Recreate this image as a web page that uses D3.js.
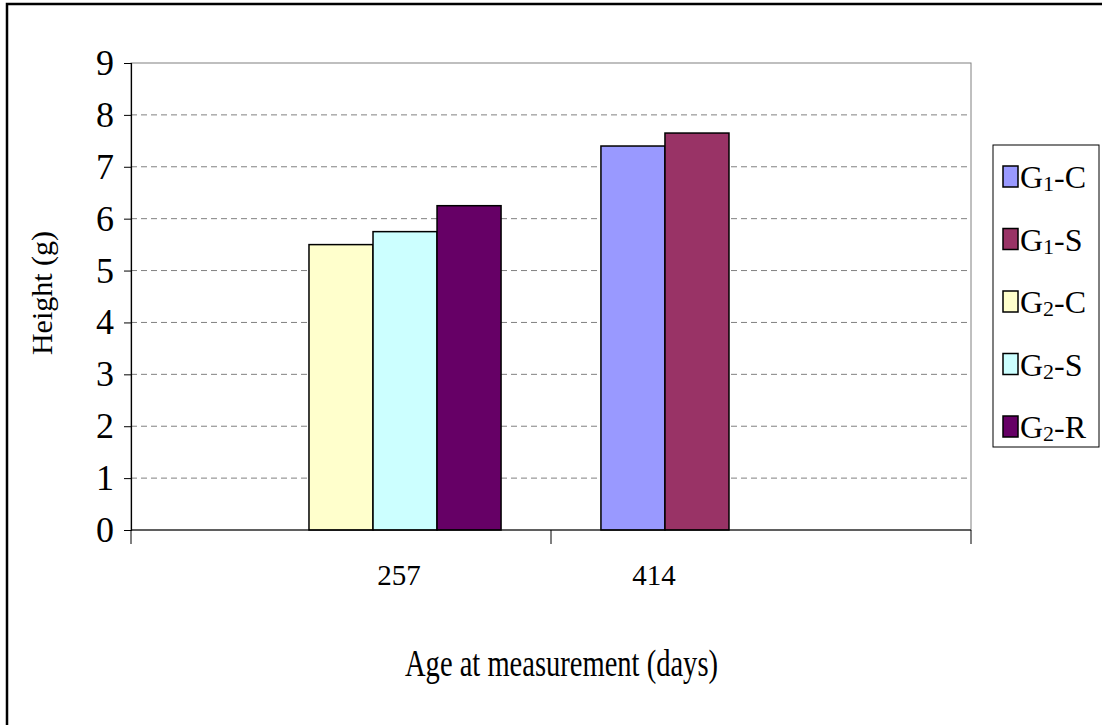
<!DOCTYPE html>
<html><head><meta charset="utf-8">
<script src="https://cdn.jsdelivr.net/npm/d3@7"></script>
<style>body{margin:0;background:#fff}svg{display:block}text{font-family:"Liberation Serif","Times New Roman",serif;fill:#000}</style>
</head><body>
<script>
const categories = ["257", "414"];
const seriesNames = ["G1-C", "G1-S", "G2-C", "G2-S", "G2-R"];
const seriesSub = ["1", "1", "2", "2", "2"];
const seriesSuffix = ["-C", "-S", "-C", "-S", "-R"];
const seriesColors = ["#9999ff", "#993366", "#ffffcc", "#ccffff", "#660066"];
const values257 = [null, null, 5.5, 5.75, 6.25];
const values414 = [7.4, 7.65, null, null, null];
const yTicks = [0, 1, 2, 3, 4, 5, 6, 7, 8, 9];

const W = 1102, H = 725;
const svg = d3.select("body").append("svg").attr("width", W).attr("height", H);
svg.append("rect").attr("x", 7).attr("y", 4).attr("width", W + 20).attr("height", H + 20)
  .attr("fill", "#fff").attr("stroke", "#000").attr("stroke-width", 2.5);

const L = 131, R = 971, T = 63, B = 530;
const x = d3.scaleBand().domain(categories).range([L, R]).paddingInner(0).paddingOuter(0);
const y = d3.scaleLinear().domain([0, 9]).range([B, T]);
const inner = d3.scaleBand().domain(seriesNames).range([0, x.bandwidth()]).paddingOuter(0.78).paddingInner(0);

// plot border
svg.append("rect").attr("x", L).attr("y", T).attr("width", R - L).attr("height", B - T)
  .attr("fill", "none").attr("stroke", "#808080").attr("stroke-width", 1);
// gridlines
svg.append("g").selectAll("line").data(yTicks.filter(d => d > 0 && d < 9)).join("line")
  .attr("x1", L).attr("x2", R).attr("y1", d => y(d)).attr("y2", d => y(d))
  .attr("stroke", "#808080").attr("stroke-dasharray", "6,4").attr("stroke-width", 1);

// bars
const rows = [values257, values414];
const barData = [];
categories.forEach((c, ci) => rows[ci].forEach((v, si) => { if (v != null) barData.push({c, s: seriesNames[si], v, color: seriesColors[si]}); }));
svg.append("g").selectAll("rect").data(barData).join("rect")
  .attr("x", d => x(d.c) + inner(d.s)).attr("width", inner.bandwidth())
  .attr("y", d => y(d.v)).attr("height", d => B - y(d.v))
  .attr("fill", d => d.color).attr("stroke", "#000").attr("stroke-width", 1.5);

// y axis
const ya = svg.append("g").attr("transform", `translate(${L},0)`)
  .call(d3.axisLeft(y).tickValues(yTicks).tickSize(7).tickPadding(10).tickFormat(d3.format("d")));
ya.select(".domain").attr("stroke", "#000").attr("stroke-width", 1.2);
ya.selectAll(".tick line").attr("stroke", "#000");
ya.selectAll("text").style("font-size", "36px").attr("font-family", "Liberation Serif").attr("fill", "#000");

// x axis
svg.append("line").attr("x1", L).attr("x2", R).attr("y1", B).attr("y2", B).attr("stroke", "#000").attr("stroke-width", 1.2);
const xEdges = [L, ...categories.map(c => x(c) + x.bandwidth())];
svg.append("g").selectAll("line").data(xEdges).join("line")
  .attr("x1", d => d).attr("x2", d => d).attr("y1", B).attr("y2", B + 14).attr("stroke", "#000");
const labelShift = [58, -107];
svg.append("g").selectAll("text").data(categories).join("text")
  .attr("x", (d, i) => x(d) + x.bandwidth() / 2 + labelShift[i]).attr("y", 585)
  .attr("text-anchor", "middle").style("font-size", "29px").text(d => d);

// titles
svg.append("text").attr("transform", "translate(52,293) rotate(-90)").attr("text-anchor", "middle")
  .style("font-size", "30px").text("Height (g)");
svg.append("text").attr("x", 405).attr("y", 676).attr("textLength", 313).attr("lengthAdjust", "spacingAndGlyphs")
  .style("font-size", "38px").text("Age at measurement (days)");

// legend
const lg = svg.append("g");
const lx = 993, ly = 145, lw = 106, lh = 302;
lg.append("rect").attr("x", lx).attr("y", ly).attr("width", lw).attr("height", lh).attr("fill", "#fff").attr("stroke", "#000").attr("stroke-width", 1);
const items = lg.append("g").selectAll("g").data(seriesNames).join("g")
  .attr("transform", (d, i) => `translate(${lx + 10},${ly + 43 + i * 62.5})`);
items.append("rect").attr("x", 0).attr("y", -22).attr("width", 15).attr("height", 21)
  .attr("fill", (d, i) => seriesColors[i]).attr("stroke", "#000").attr("stroke-width", 1.5);
const tx = items.append("text").attr("x", 17).attr("y", 0).style("font-size", "32px");
tx.append("tspan").text("G");
tx.append("tspan").attr("dy", 3).style("font-size", "22px").text((d, i) => seriesSub[i]);
tx.append("tspan").attr("dy", -3).text((d, i) => seriesSuffix[i]);
</script>
</body></html>
